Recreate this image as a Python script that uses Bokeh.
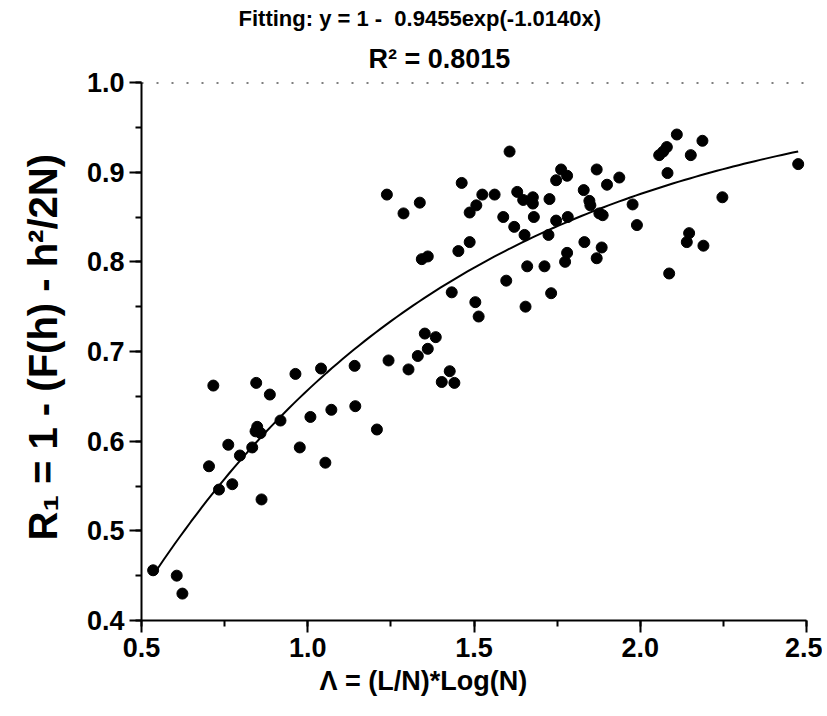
import math
from bokeh.plotting import figure
from bokeh.models import (Range1d, SingleIntervalTicker, PrintfTickFormatter,
                          Span, ColumnDataSource, Title)
from bokeh.embed import file_html
from bokeh.resources import INLINE

# ---- data ----
lam = [0.535, 0.606, 0.623, 0.716, 0.703, 0.733, 0.761, 0.773, 0.796, 0.833,
       0.845, 0.848, 0.843, 0.858, 0.861, 0.886, 0.918, 0.963, 0.976, 1.008,
       1.040, 1.053, 1.071, 1.141, 1.143, 1.208, 1.243, 1.303, 1.331, 1.352,
       1.385, 1.361, 1.403, 1.427, 1.441, 1.238, 1.288, 1.337, 1.463, 1.487,
       1.343, 1.361, 1.453, 1.487, 1.433, 1.507, 1.525, 1.562, 1.607, 1.588,
       1.630, 1.621, 1.648, 1.677, 1.677, 1.680, 1.652, 1.597, 1.660, 1.712,
       1.655, 1.732, 1.504, 1.514, 1.727, 1.724, 1.747, 1.747, 1.762, 1.780,
       1.782, 1.780, 1.774, 1.832, 1.830, 1.847, 1.850, 1.869, 1.877, 1.887,
       1.884, 1.869, 1.900, 1.937, 1.977, 1.990, 2.057, 2.069, 2.080, 2.110,
       2.082, 2.152, 2.187, 2.087, 2.147, 2.140, 2.190, 2.247, 2.475]
r1 = [0.456, 0.450, 0.430, 0.662, 0.572, 0.546, 0.596, 0.552, 0.584, 0.593,
      0.665, 0.616, 0.611, 0.609, 0.535, 0.652, 0.623, 0.675, 0.593, 0.627,
      0.681, 0.576, 0.635, 0.684, 0.639, 0.613, 0.690, 0.680, 0.695, 0.720,
      0.716, 0.703, 0.666, 0.678, 0.665, 0.875, 0.854, 0.866, 0.888, 0.855,
      0.803, 0.806, 0.812, 0.822, 0.766, 0.863, 0.875, 0.875, 0.923, 0.850,
      0.878, 0.839, 0.869, 0.872, 0.865, 0.850, 0.830, 0.779, 0.795, 0.795,
      0.750, 0.765, 0.755, 0.739, 0.870, 0.830, 0.846, 0.891, 0.903, 0.896,
      0.850, 0.810, 0.800, 0.822, 0.880, 0.868, 0.863, 0.903, 0.854, 0.852,
      0.816, 0.804, 0.886, 0.894, 0.864, 0.841, 0.919, 0.923, 0.928, 0.942,
      0.899, 0.919, 0.935, 0.787, 0.832, 0.822, 0.818, 0.872, 0.909]

# fitted model stated on the chart: y = 1 - A*exp(-B*x)
FIT_A = 0.9455
FIT_B = 1.0140
FIT_TITLE = "Fitting: y = 1 -\u00a0 0.9455exp(-1.0140x)"
R2_TEXT = "R\u00b2 = 0.8015"
X_LABEL = "\u039b = (L/N)*Log(N)"
Y_LABEL = "R\u2081 = 1 - (F(h) - h\u00b2/2N)"

n_fit = 120
x_lo, x_hi = min(lam), max(lam)
fit_x = [x_lo + (x_hi - x_lo) * i / (n_fit - 1) for i in range(n_fit)]
fit_y = [1 - FIT_A * math.exp(-FIT_B * x) for x in fit_x]

FONT = "Liberation Sans"

p = figure(width=822, height=714, output_backend="svg", toolbar_location=None,
           x_range=Range1d(0.5, 2.5), y_range=Range1d(0.4, 1.0),
           min_border_left=139, min_border_right=16,
           min_border_top=82, min_border_bottom=94)
p.title.visible = False
p.xgrid.visible = False
p.ygrid.visible = False
p.outline_line_color = None
p.background_fill_color = "white"
p.border_fill_color = "white"

p.xaxis.ticker = SingleIntervalTicker(interval=0.5, num_minor_ticks=2)
p.yaxis.ticker = SingleIntervalTicker(interval=0.1, num_minor_ticks=2)
for ax in (p.xaxis[0], p.yaxis[0]):
    ax.formatter = PrintfTickFormatter(format="%.1f")
    ax.axis_line_width = 2
    ax.axis_line_color = "black"
    ax.major_tick_line_width = 2
    ax.minor_tick_line_width = 2
    ax.major_tick_out = 12
    ax.major_tick_in = 0
    ax.minor_tick_out = 6
    ax.minor_tick_in = 0
    ax.major_label_text_font = FONT
    ax.major_label_text_font_style = "bold"
    ax.major_label_text_font_size = "27px"
    ax.major_label_text_color = "black"
    ax.major_label_standoff = 5

p.add_layout(Span(location=1.0, dimension="width", line_color="black",
                  line_width=2, line_dash="2 13"))

fit_src = ColumnDataSource(dict(x=fit_x, y=fit_y))
p.line("x", "y", source=fit_src, line_color="black", line_width=2)

pts = ColumnDataSource(dict(x=lam, y=r1))
p.scatter("x", "y", source=pts, size=11, fill_color="black", line_color="black")

# titles stacked above the frame (first added sits closest to the frame)
p.add_layout(Title(text=R2_TEXT, align="left", offset=227, standoff=18,
                   text_font=FONT, text_font_style="bold", text_font_size="27px",
                   text_color="black"), "above")
p.add_layout(Title(text=FIT_TITLE, align="left", offset=97, standoff=4,
                   text_font=FONT, text_font_style="bold", text_font_size="22px",
                   text_color="black"), "above")

# axis titles
p.add_layout(Title(text=X_LABEL, align="left", offset=178, standoff=8,
                   text_font=FONT, text_font_style="bold", text_font_size="27px",
                   text_color="black"), "below")
p.add_layout(Title(text=Y_LABEL, align="left", offset=80, standoff=37,
                   text_font=FONT, text_font_style="bold", text_font_size="40px",
                   text_color="black"), "left")

open("out.html", "w").write(file_html(p, INLINE))
